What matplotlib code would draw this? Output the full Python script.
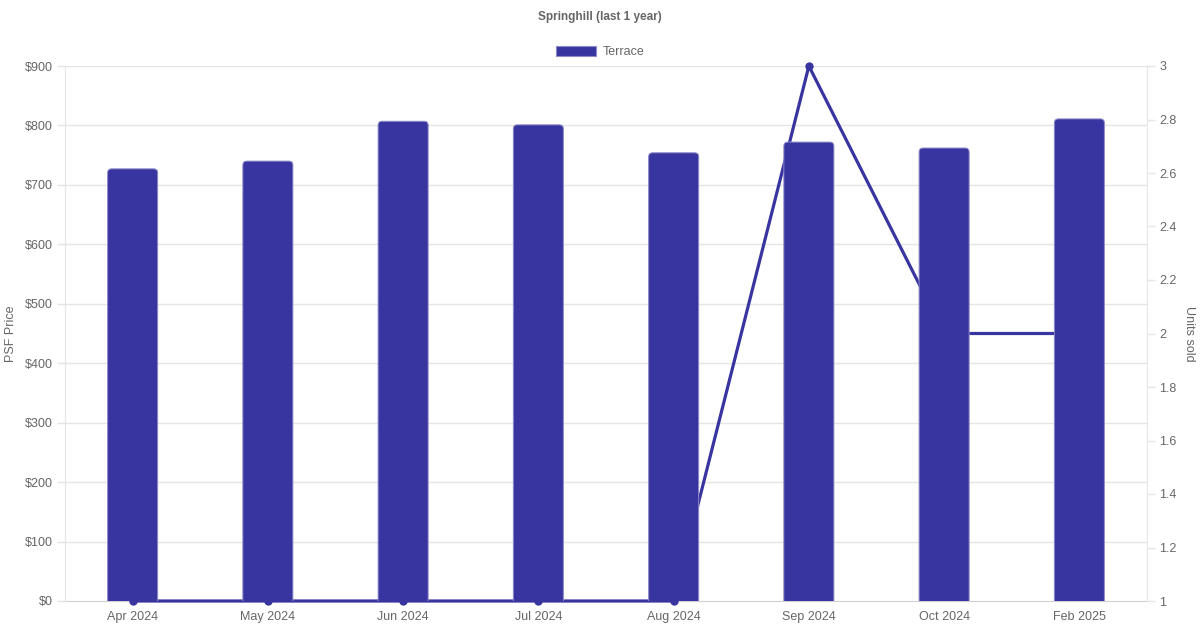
import numpy as np
import matplotlib.pyplot as plt
import matplotlib.transforms as mtransforms
from matplotlib.ticker import FuncFormatter, MultipleLocator
from matplotlib.patches import Patch, FancyBboxPatch

plt.rcParams['font.family'] = ['Liberation Sans', 'DejaVu Sans']

months = ["Apr 2024", "May 2024", "Jun 2024", "Jul 2024", "Aug 2024", "Sep 2024", "Oct 2024", "Feb 2025"]
psf_price = [727, 740, 807, 801, 754, 772, 762, 811]
units_sold = [1, 1, 1, 1, 1, 3, 2, 2]

bar_color = "#3935a0"
edge_color = "#8d8ac8"
line_color = "#3834a0"
text_color = "#666666"
grid_color = "#e5e5e5"

fig = plt.figure(figsize=(12, 6.3), dpi=100)
ax = fig.add_axes([65 / 1200, 1 - 601 / 630, (1147 - 65) / 1200, (601 - 66) / 630])
ax2 = ax.twinx()

# line goes behind the bars
ax2.set_zorder(ax.get_zorder() - 1)
ax.patch.set_visible(False)

x = np.arange(len(months))
ax.set_xlim(-0.5, len(months) - 0.5)
ax.set_ylim(0, 900)
ax2.set_ylim(1, 3)

bars = ax.bar(x, psf_price, width=0.37, color=bar_color)
# swap the plain bars for ones with rounded top corners
px_x = 1 / 135.25
px_y = 900 / 535
for r in bars:
    r.set_visible(False)
    rad = 4 * px_x
    ext = 8 * px_y
    fb = FancyBboxPatch((r.get_x(), r.get_y() - ext), r.get_width(), r.get_height() + ext,
                        boxstyle=f"round,pad=0,rounding_size={rad}",
                        mutation_aspect=px_y / px_x,
                        facecolor=bar_color, edgecolor=edge_color, linewidth=0.7, zorder=3)
    ax.add_patch(fb)

ax2.plot(x, units_sold, color=line_color, linewidth=2.3, marker="o", markersize=5,
         zorder=2, clip_on=False)

# grid lines of the left axis, drawn on the lower axes so the line sits above them
trans = mtransforms.blended_transform_factory(ax2.transAxes, ax.transData)
for v in np.arange(100, 901, 100):
    ax2.plot([0, 1], [v, v], color=grid_color, linewidth=1, transform=trans, zorder=0)

ax.yaxis.set_major_locator(MultipleLocator(100))
ax.yaxis.set_major_formatter(FuncFormatter(lambda v, p: f"${v:.0f}"))
ax2.yaxis.set_major_locator(MultipleLocator(0.2))
ax2.yaxis.set_major_formatter(FuncFormatter(lambda v, p: f"{v:.1f}".rstrip("0").rstrip(".")))

ax.set_xticks(x)
ax.set_xticklabels(months)

for a in (ax, ax2):
    for s in a.spines.values():
        s.set_visible(False)
    a.tick_params(colors=text_color, labelsize=9, length=6, width=1)
    a.tick_params(axis="y", color=grid_color, pad=3)
ax.tick_params(axis="x", length=0, pad=7)
ax2.tick_params(axis="x", length=0)
ax.spines["left"].set_visible(True)
ax.spines["left"].set_color(grid_color)
ax2.spines["bottom"].set_visible(True)
ax2.spines["bottom"].set_color("#d0d0d0")
ax2.spines["bottom"].set_zorder(0)
ax2.spines["right"].set_visible(True)
ax2.spines["right"].set_color(grid_color)

ax.set_ylabel("PSF Price", color=text_color, fontsize=9, va="center")
ax.yaxis.set_label_coords((11 - 65) / 1082, 0.5)
ax2.set_ylabel("Units sold", color=text_color, fontsize=9, rotation=-90, va="center")
ax2.yaxis.set_label_coords((1189 - 65) / 1082, 0.5)

fig.text(0.5, 1 - 17 / 630, "Springhill (last 1 year)", ha="center", va="center",
         color=text_color, fontsize=8.5, fontweight="bold")

handle = Patch(facecolor=bar_color, edgecolor=edge_color, linewidth=0.8)
fig.legend([handle], ["Terrace"], loc="center", bbox_to_anchor=(0.5, 1 - 52 / 630),
           frameon=False, fontsize=9, labelcolor=text_color,
           handlelength=3.2, handleheight=0.9, handletextpad=0.5)

fig.savefig("out.png", dpi=100)
